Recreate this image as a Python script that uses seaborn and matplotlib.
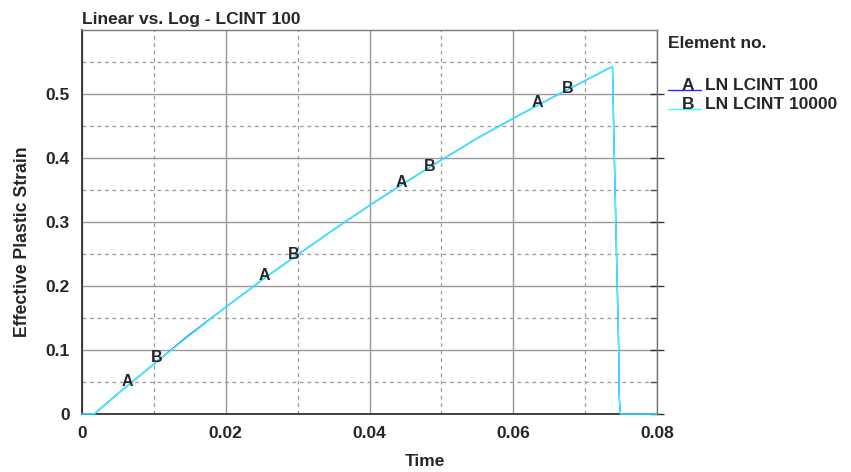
import pandas as pd
import seaborn as sns
import matplotlib.pyplot as plt
from matplotlib.lines import Line2D

# curve data
time_b = [0.0, 0.0017, 0.005, 0.010, 0.015, 0.020, 0.025, 0.030, 0.035, 0.040, 0.045,
          0.050, 0.055, 0.060, 0.065, 0.070, 0.0738, 0.0740, 0.0747, 0.0747, 0.0749, 0.080]
strain_b = [0.0, 0.0, 0.032, 0.078, 0.123, 0.167, 0.209, 0.249, 0.288, 0.326, 0.362,
            0.397, 0.431, 0.462, 0.492, 0.521, 0.543, 0.428, 0.084, 0.033, 0.0, 0.0]
time_a = [0.0, 0.0017, 0.005, 0.010, 0.0148, 0.020, 0.025, 0.030, 0.035, 0.040, 0.045,
          0.050, 0.055, 0.060, 0.065, 0.070, 0.0738, 0.0740, 0.0747, 0.0747, 0.0749, 0.080]
strain_a = [0.0, 0.0, 0.032, 0.078, 0.1225, 0.167, 0.209, 0.249, 0.288, 0.326, 0.362,
            0.397, 0.431, 0.462, 0.492, 0.521, 0.543, 0.428, 0.084, 0.033, 0.0, 0.0]

# curve label positions
label_a_t = [0.0063, 0.0253, 0.0444, 0.0633]
label_a_y = [0.050, 0.217, 0.361, 0.486]
label_b_t = [0.0104, 0.0294, 0.0484, 0.0675]
label_b_y = [0.0875, 0.250, 0.3875, 0.509]

x_ticks = [0, 0.02, 0.04, 0.06, 0.08]
x_tick_labels = ["0", "0.02", "0.04", "0.06", "0.08"]
y_ticks = [0, 0.1, 0.2, 0.3, 0.4, 0.5]
y_tick_labels = ["0", "0.1", "0.2", "0.3", "0.4", "0.5"]

series_names = ["LN LCINT 100", "LN LCINT 10000"]
series_colors = ["#2a2aff", "#33ffff"]

sns.set_style("white")
plt.rcParams["font.family"] = ["Liberation Sans", "DejaVu Sans"]
plt.rcParams["font.weight"] = "bold"

df = pd.concat([
    pd.DataFrame({"Time": time_a, "Strain": strain_a, "curve": series_names[0]}),
    pd.DataFrame({"Time": time_b, "Strain": strain_b, "curve": series_names[1]}),
])

fig = plt.figure(figsize=(8.51, 4.72), dpi=100)
ax = fig.add_axes([0.0964, 0.1229, 0.6757, 0.8135])

sns.lineplot(data=df, x="Time", y="Strain", hue="curve", palette=series_colors,
             sort=False, estimator=None, linewidth=1.0, legend=False, ax=ax)
# keep the curves visible on top of the axis lines
for ln in ax.lines:
    ln.set_zorder(3)
    ln.set_clip_on(False)

for t, y in zip(label_a_t, label_a_y):
    ax.text(t, y, "A", ha="center", va="center", fontsize=11.5, fontweight="bold")
for t, y in zip(label_b_t, label_b_y):
    ax.text(t, y, "B", ha="center", va="center", fontsize=11.5, fontweight="bold")

ax.set_xlim(0, 0.08)
ax.set_ylim(0, 0.6)
ax.set_xticks(x_ticks, labels=x_tick_labels)
ax.set_xticks([0.01, 0.03, 0.05, 0.07], minor=True)
ax.set_yticks(y_ticks, labels=y_tick_labels)
ax.set_yticks([0.05, 0.15, 0.25, 0.35, 0.45, 0.55], minor=True)
ax.grid(which="major", color="#999999", linewidth=1.0, linestyle="-")
ax.grid(which="minor", color="#999999", linewidth=0.9, linestyle=(0, (3, 3)))
ax.set_axisbelow(True)

ax.tick_params(which="major", direction="inout", length=10, width=1, color="#333333",
               labelsize=12.5, right=True, top=False, pad=4)
ax.tick_params(which="minor", direction="in", length=5, width=1, color="#555555",
               right=True)
for lab in ax.get_xticklabels() + ax.get_yticklabels():
    lab.set_fontweight("bold")

for side in ["left", "bottom"]:
    ax.spines[side].set_color("#222222")
    ax.spines[side].set_linewidth(1.2)
for side in ["top", "right"]:
    ax.spines[side].set_color("#777777")
    ax.spines[side].set_linewidth(1.0)

ax.set_xlabel("Time", fontsize=12.5, fontweight="bold")
ax.xaxis.set_label_coords(0.5965, -0.105)
ax.set_ylabel("Effective Plastic Strain", fontsize=12.7, fontweight="bold")
ax.yaxis.set_label_coords(-0.088, 0.448)
ax.set_title("Linear vs. Log - LCINT 100", fontsize=12.5, fontweight="bold",
             loc="left", pad=4)

# legend drawn by hand, letter sitting on the line sample
fig.text(0.785, 0.907, "Element no.", fontsize=12.5, fontweight="bold", va="center")
for i, (name, color, letter) in enumerate(zip(series_names, series_colors, "AB")):
    base = 0.809 - i * 0.040
    fig.add_artist(Line2D([0.785, 0.824], [base, base], color=color,
                          linewidth=1.0, transform=fig.transFigure))
    fig.text(0.8085, base, letter, fontsize=12.5, fontweight="bold",
             ha="center", va="baseline")
    fig.text(0.828, base, name, fontsize=12.5, fontweight="bold", va="baseline")

plt.savefig("out.png", dpi=100)
